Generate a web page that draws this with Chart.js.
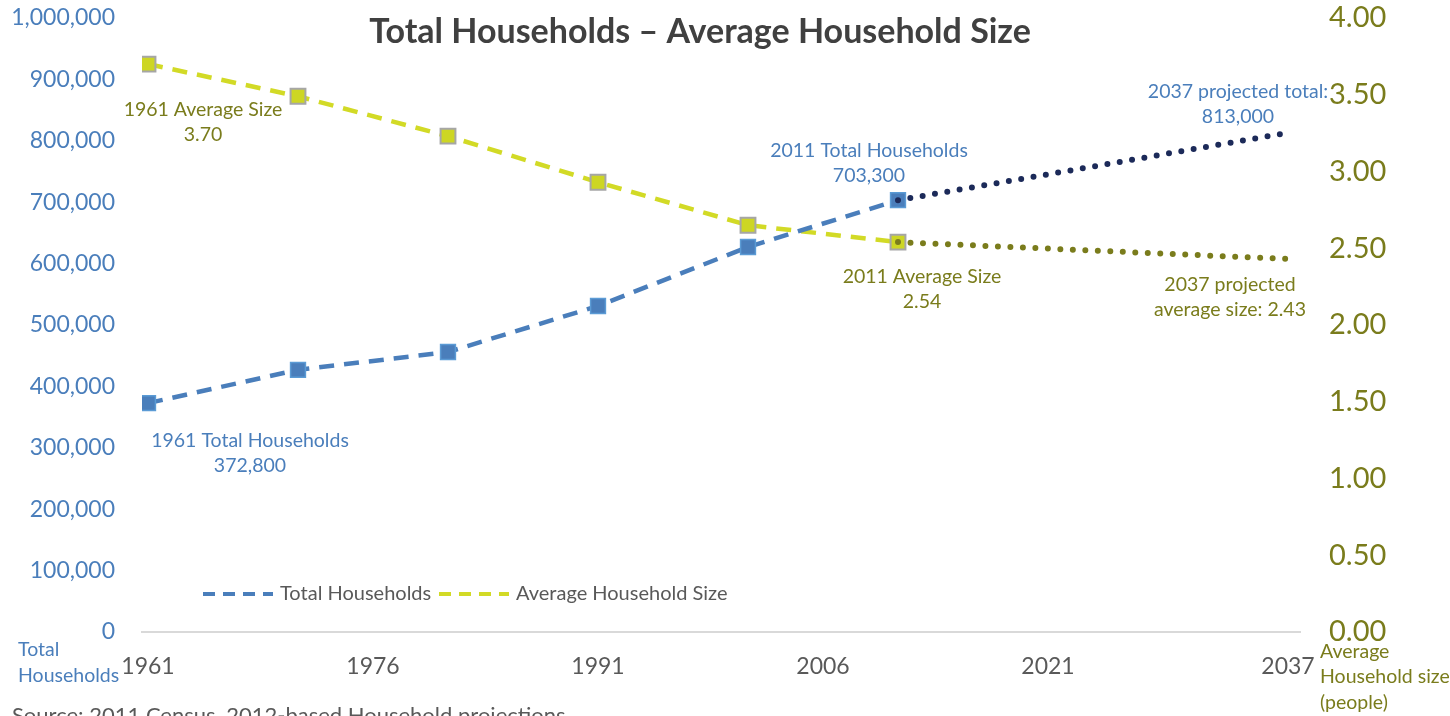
<!DOCTYPE html>
<html>
<head>
<meta charset="utf-8">
<script src="https://cdn.jsdelivr.net/npm/chart.js@4/dist/chart.umd.min.js"></script>
<style>
  html,body{margin:0;padding:0;background:#fff;}
  canvas{display:block;}
</style>
</head>
<body>
<canvas id="chart" width="1450" height="716"></canvas>
<script>
// Dados
const years = [1961, 1971, 1981, 1991, 2001, 2011];
const households = [372800, 427000, 456000, 531000, 627000, 703300];
const avgSize = [3.70, 3.49, 3.23, 2.93, 2.65, 2.54];
const projYears = [2011, 2037];
const projHouseholds = [703300, 813000];
const projAvgSize = [2.54, 2.43];
const xTicks = [1961, 1976, 1991, 2006, 2021, 2037];

const FONT = 'Lato, "Open Sans", sans-serif';
const BLUE = '#4a7ebb';
const LIME = '#d2da26';
const OLIVE = '#7a7c1c';
const NAVY = '#1c2a59';
const GREY = '#595959';

const pts = (xs, ys) => xs.map((x, i) => ({x: x, y: ys[i]}));

// marcas de tick invisiveis, so para afastar os rotulos do eixo
const hiddenTicks = len => ({display: true, drawOnChartArea: false, drawTicks: true,
                             tickLength: len, tickColor: 'rgba(0,0,0,0)'});

// Textos e legenda
const extras = {
  id: 'extras',
  afterDraw(chart){
    const c = chart.ctx;
    c.save();
    c.textBaseline = 'middle';

    // titulo
    c.fillStyle = '#404040';
    c.font = 'bold 34px ' + FONT;
    c.textAlign = 'center';
    c.fillText('Total Households \u2013 Average Household Size', 700, 32);

    // rotulos dos pontos
    c.font = '19.5px ' + FONT;
    const lbl = (t1, t2, x, y, col) => {
      c.fillStyle = col;
      c.fillText(t1, x, y);
      c.fillText(t2, x, y + 25);
    };
    lbl('1961 Average Size', '3.70', 203, 110, OLIVE);
    lbl('1961 Total Households', '372,800', 250, 441, BLUE);
    lbl('2011 Total Households', '703,300', 869, 151, BLUE);
    lbl('2011 Average Size', '2.54', 922, 277, OLIVE);
    lbl('2037 projected total:', '813,000', 1238, 92, BLUE);
    lbl('2037 projected', 'average size: 2.43', 1230, 285, OLIVE);

    // legenda
    c.lineWidth = 4;
    c.setLineDash([12, 8]);
    c.strokeStyle = BLUE;
    c.beginPath(); c.moveTo(203, 594); c.lineTo(273, 594); c.stroke();
    c.strokeStyle = LIME;
    c.beginPath(); c.moveTo(439, 594); c.lineTo(509, 594); c.stroke();
    c.setLineDash([]);
    c.fillStyle = GREY;
    c.textAlign = 'left';
    c.font = '20px ' + FONT;
    c.fillText('Total Households', 280, 594);
    c.fillText('Average Household Size', 516, 594);

    // titulos dos eixos
    c.font = '19.5px ' + FONT;
    c.fillStyle = BLUE;
    c.fillText('Total', 18, 650);
    c.fillText('Households', 18, 676);
    c.fillStyle = OLIVE;
    c.fillText('Average', 1320, 652);
    c.fillText('Household size', 1320, 677);
    c.fillText('(people)', 1320, 703);

    // fonte
    c.fillStyle = GREY;
    c.font = '22px ' + FONT;
    c.textBaseline = 'top';
    c.fillText('Source: 2011 Census, 2012-based Household projections', 12, 705);
    c.restore();
  }
};

const ctx = document.getElementById('chart').getContext('2d');
new Chart(ctx, {
  type: 'line',
  data: {
    datasets: [
      {
        label: '2037 projected total',
        data: pts(projYears, projHouseholds),
        yAxisID: 'y',
        borderColor: NAVY,
        borderWidth: 6,
        borderDash: [0, 12.5],
        borderCapStyle: 'round',
        pointRadius: 0,
        order: 0
      },
      {
        label: '2037 projected average size',
        data: pts(projYears, projAvgSize),
        yAxisID: 'y1',
        borderColor: OLIVE,
        borderWidth: 6,
        borderDash: [0, 12.5],
        borderCapStyle: 'round',
        pointRadius: 0,
        order: 0
      },
      {
        label: 'Total Households',
        data: pts(years, households),
        yAxisID: 'y',
        borderColor: BLUE,
        borderWidth: 4.5,
        borderDash: [15, 10],
        pointStyle: 'rect',
        pointRadius: 10.5,
        pointBackgroundColor: BLUE,
        pointBorderColor: '#5b9bd5',
        pointBorderWidth: 1.5,
        order: 1
      },
      {
        label: 'Average Household Size',
        data: pts(years, avgSize),
        yAxisID: 'y1',
        borderColor: LIME,
        borderWidth: 4.5,
        borderDash: [15, 10],
        pointStyle: 'rect',
        pointRadius: 10.5,
        pointBackgroundColor: '#cdd624',
        pointBorderColor: '#a6a6a6',
        pointBorderWidth: 2,
        order: 2
      }
    ]
  },
  options: {
    responsive: false,
    animation: false,
    layout: {padding: {top: 18, left: 0, right: 0, bottom: 0}},
    plugins: {legend: {display: false}, title: {display: false}, tooltip: {enabled: false}},
    scales: {
      x: {
        type: 'linear',
        min: 1960.6,
        max: 2037.8,
        afterBuildTicks: s => { s.ticks = xTicks.map(v => ({value: v})); },
        afterFit: s => { s.height = 84; },
        grid: hiddenTicks(21),
        border: {display: true, color: '#d9d9d9', width: 2},
        ticks: {
          padding: 0,
          color: GREY,
          font: {family: FONT, size: 23},
          callback: v => String(v)
        }
      },
      y: {
        position: 'left',
        min: 0,
        max: 1000000,
        afterFit: s => { s.width = 142; },
        grid: hiddenTicks(27),
        border: {display: false},
        ticks: {
          stepSize: 100000,
          padding: 0,
          color: BLUE,
          font: {family: FONT, size: 23},
          callback: v => v.toLocaleString('en-US')
        }
      },
      y1: {
        position: 'right',
        min: 0,
        max: 4,
        afterFit: s => { s.width = 150; },
        grid: hiddenTicks(29),
        border: {display: false},
        ticks: {
          stepSize: 0.5,
          padding: 0,
          color: OLIVE,
          font: {family: FONT, size: 29},
          callback: v => v.toFixed(2)
        }
      }
    }
  },
  plugins: [extras]
});
</script>
</body>
</html>
